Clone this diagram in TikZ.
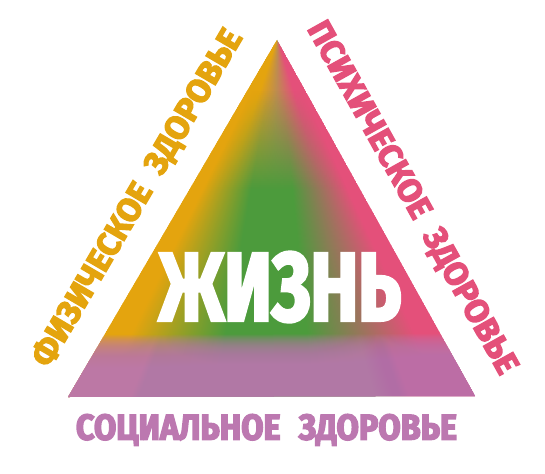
\documentclass[tikz,border=0pt]{standalone}
\usepackage{fontspec}
\setmainfont{Fira Sans}
\newfontfamily\labelfont{Fira Sans}[FakeBold=4]
\newfontfamily\socialfont{Fira Sans}[FakeBold=4, FakeStretch=0.9]
\newfontfamily\lifefont{Fira Sans}[FakeStretch=0.74, FakeBold=3]
\usepackage{tikz}
\usetikzlibrary{calc,positioning}

\definecolor{physorange}{RGB}{228,164,14}
\definecolor{psychpink}{RGB}{228,80,122}
\definecolor{socialpurple}{RGB}{188,120,176}
\definecolor{lifegreen}{RGB}{76,155,60}
\definecolor{apexolive}{RGB}{190,140,80}

\pgfdeclarehorizontalshading{lifeshade}{100bp}{color(0bp)=(physorange); color(29bp)=(physorange);
    color(43bp)=(lifegreen); color(55bp)=(lifegreen); color(71bp)=(psychpink); color(100bp)=(psychpink)}
\pgfdeclarehorizontalshading{apexshade}{100bp}{color(0bp)=(physorange); color(36bp)=(physorange);
    color(50bp)=(apexolive); color(64bp)=(psychpink); color(100bp)=(psychpink)}

\begin{document}
\begin{tikzpicture}[x=1pt, y=1pt,
        edgelabel/.style={font=\labelfont\bfseries\fontsize{33}{33}\selectfont, inner sep=0pt, text height=23pt, text depth=0pt},
        band/.style={opacity=.09},
    ]
    \useasboundingbox (0,0) rectangle (545,-473);
    \coordinate (apex) at (277,-40);
    \coordinate (left) at (68,-397);
    \coordinate (right) at (475,-396);

    \begin{scope}
        \clip (apex) -- (left) -- (right) -- cycle;
        \foreach \y [evaluate=\y as \lx using 277-(\y-40)*0.5854-1,
                     evaluate=\y as \rx using 277+(\y-40)*0.5562+1] in {40,42,...,398} {
            \pgfmathsetmacro\fade{min(1,max(0,(190-\y)/100))}
            \shade[shading=lifeshade] (\lx,-\y+0.5) rectangle (\rx,-\y-2.5);
            \shade[shading=apexshade, opacity=\fade] (\lx,-\y+0.5) rectangle (\rx,-\y-2.5);
        }
        \foreach \d in {26,27,...,62} {
            \fill[socialpurple, band] ($(left)!-6pt!90:(right)$) -- ($(right)!-6pt!-90:(left)$)
                -- ($(right)!\d pt!-90:(left)$) -- ($(left)!\d pt!90:(right)$) -- cycle;
        }
    \end{scope}

    \coordinate (physmid) at ($(left)!0.5!(apex)$);
    \coordinate (psychmid) at ($(right)!0.5!(apex)$);
    \coordinate (socialmid) at ($(left)!0.5!(right)$);

    \node (life) [text=white, font=\lifefont\bfseries\fontsize{97}{97}\selectfont, inner sep=0pt] at (280,-287) {ЖИЗНЬ};

    \node (physical) [edgelabel, text=physorange, rotate=59.65] at ($(physmid)!42pt!90:(apex)$) {ФИЗИЧЕСКОЕ\hspace{.5em}ЗДОРОВЬЕ};
    \node (psychical) [edgelabel, text=psychpink, rotate=-60.9] at ($(psychmid)!43pt!-90:(apex)$) {ПСИХИЧЕСКОЕ\hspace{.5em}ЗДОРОВЬЕ};
    \node (social) [edgelabel, text=socialpurple, font=\socialfont\bfseries\fontsize{36}{36}\selectfont, text height=25pt, below=18pt of socialmid, xshift=-5pt] {СОЦИАЛЬНОЕ\hspace{.5em}ЗДОРОВЬЕ};
\end{tikzpicture}
\end{document}
